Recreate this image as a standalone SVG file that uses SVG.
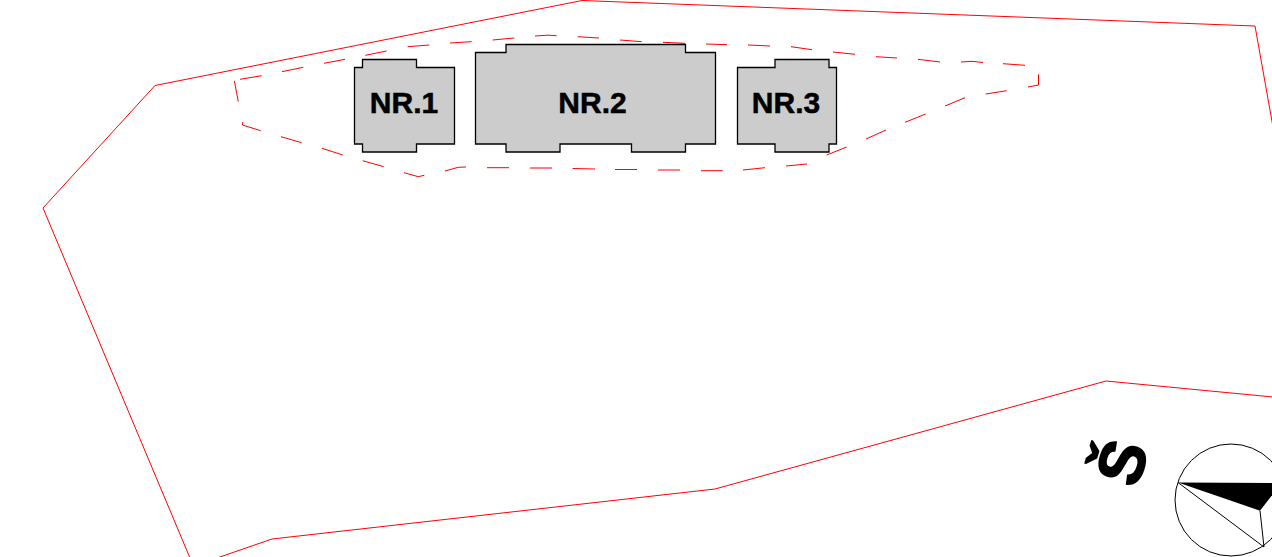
<svg xmlns="http://www.w3.org/2000/svg" width="1272" height="557" viewBox="0 0 1272 557">
<style>
.site{fill:none;stroke:#ff0000;stroke-width:1}
.bld{fill:#cccccc;stroke:#000;stroke-width:1.3}
.lbl{font-family:"Liberation Sans",Arial,sans-serif;font-weight:700;font-size:30px;fill:#000;stroke:#000;stroke-width:.5;text-anchor:middle}
.cl{fill:none;stroke:#000;stroke-width:1}
</style>
<rect width="1272" height="557" fill="#fff"/>
<g id="connectors">
<polyline class="site" points="217,558 272,539 715,489 1106,381 1273,397"/>
<polyline class="site" points="1273,127 1255,26 582,0.500 155,85.500 43,208 190,558"/>
<path class="site" d="M240,79.300L261.700,75.700M282,71.700L303.300,67.300M324,63.300L345,59.300M365.300,55.300L386.700,51M407.700,46.700L429.300,45M450,43L471.700,41.700M492.700,40L514.300,38M535,36L548,35.200L556.700,35.700M577.700,36.700L599,38M620,40L641.700,41.700M663,42.300L685,43.300M706,44L727,44.700M748,45L770,46M791,46.700L812,49.700M833,52L855,54.300M876,56.700L897,58M918,59.300L940,62M961,62L972,61.300L983,62.500M1003,63.700L1025,65.300M1038.500,74.300L1038.500,85L1028,87M1006.700,90.700L985.600,94M965,97.700L945,106M925.700,114L905,122.300M886,130L866,139M846.700,147L826.700,155M807,164L786,166M765,167.700L743,170M722.700,170.700L701,170.700M680,170L658,170M637,169.500L615,169.500M595,169L572.700,168.500M552,168L530,168M509,167.700L487,167.700M466,167L458.300,167.300L445,171M424.300,175.300L418.300,176.700L404,172.700M383.700,166.700L362.700,160.700M342.700,155L322,148.300M301.700,142.700L281,136.700M260.700,130.700L242.500,125L242.800,122M238.300,101.700L234.300,80.700"/>
</g>
<g id="nr1">
<polygon class="bld" points="354.5,67.5 362.5,67.5 362.5,59.5 416.5,59.5 416.5,67.5 454.5,67.5 454.5,144 416.5,144 416.5,152 362.5,152 362.5,144 354.5,144"/>
<text class="lbl" x="404" y="113">NR.1</text>
</g>
<g id="nr2">
<polygon class="bld" points="475.5,52.5 506,52.5 506,44.5 685.5,44.5 685.5,52.5 715.5,52.5 715.5,144 685.5,144 685.5,152 631.5,152 631.5,144 560,144 560,152 506,152 506,144 475.5,144"/>
<text class="lbl" x="592.500" y="113">NR.2</text>
</g>
<g id="nr3">
<polygon class="bld" points="737.5,67.5 775,67.5 775,59.500 829,59.500 829,67.500 836.500,67.500 836.500,144 829,144 829,152 775,152 775,144 737.5,144"/>
<text class="lbl" x="786" y="113">NR.3</text>
</g>
<g id="compass">
<circle class="cl" cx="1231" cy="500" r="56"/>
<polygon points="1178,482.500 1280,483 1280,485 1260,510.700" fill="#000"/>
<polyline class="cl" points="1178,482.500 1264,547 1260,510.700"/>
<text x="1127" y="464" transform="rotate(-73 1127 464)" text-anchor="middle" dominant-baseline="middle" font-family="Liberation Sans,Arial,sans-serif" font-weight="700" font-size="64" fill="#000" stroke="#000" stroke-width="1.5">Š</text>
</g>
</svg>
